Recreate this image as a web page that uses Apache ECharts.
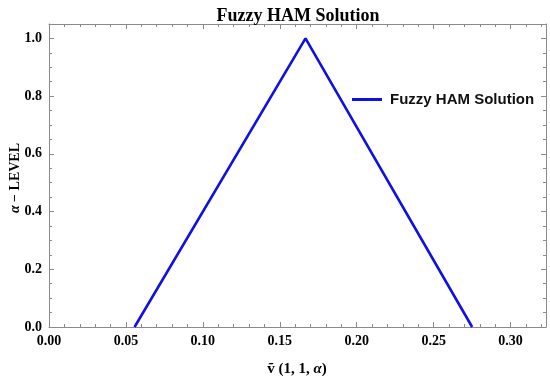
<!DOCTYPE html>
<html><head><meta charset="utf-8">
<script src="https://cdn.jsdelivr.net/npm/echarts@6/dist/echarts.min.js"></script>
<style>html,body{margin:0;padding:0;background:#fff}#c{width:550px;height:381px}</style>
</head><body><div id="c"></div>
<script>
const seriesName = 'Fuzzy HAM Solution';
const xValues = [0.0556, 0.1667, 0.2750];
const alphaValues = [0, 1, 0];
const xMajorTicks = [0, 0.05, 0.10, 0.15, 0.20, 0.25, 0.30];
const xMinorTicks = [0.01,0.02,0.03,0.04,0.06,0.07,0.08,0.09,0.11,0.12,0.13,0.14,0.16,0.17,0.18,0.19,0.21,0.22,0.23,0.24,0.26,0.27,0.28,0.29,0.31,0.32];
const yMajorTicks = [0, 0.2, 0.4, 0.6, 0.8, 1.0];
const yMinorTicks = [0.05,0.1,0.15,0.25,0.3,0.35,0.45,0.5,0.55,0.65,0.7,0.75,0.85,0.9,0.95];

const X_MAX = 0.323, Y_MAX = 1.05;
const gray = '#8a8a8a';
const serif = '"Liberation Serif","Times New Roman",serif';

function xAx(pos, ticks, len, labels, line) {
  return {
    type: 'value', position: pos, min: 0, max: X_MAX,
    axisLine: {show: line, onZero: false, lineStyle: {color: gray, width: 1}},
    axisTick: {show: true, inside: true, length: len, customValues: ticks, lineStyle: {color: gray}},
    axisLabel: labels ? {show: true, customValues: ticks, formatter: v => v.toFixed(2), color: '#000', fontFamily: serif, fontWeight: 'bold', fontSize: 14, margin: 7} : {show: false},
    splitLine: {show: false}
  };
}
function yAx(pos, ticks, len, labels, line) {
  return {
    type: 'value', position: pos, min: 0, max: Y_MAX,
    axisLine: {show: line, onZero: false, lineStyle: {color: gray, width: 1}},
    axisTick: {show: true, inside: true, length: len, customValues: ticks, lineStyle: {color: gray}},
    axisLabel: labels ? {show: true, customValues: ticks, formatter: v => v.toFixed(1), color: '#000', fontFamily: serif, fontWeight: 'bold', fontSize: 14, margin: 7} : {show: false},
    splitLine: {show: false}
  };
}

const xAxes = [
  xAx('bottom', xMajorTicks, 5, true, true),
  xAx('bottom', xMinorTicks, 3, false, false),
  xAx('top', xMajorTicks, 5, false, true),
  xAx('top', xMinorTicks, 3, false, false)
];
const yAxes = [
  yAx('left', yMajorTicks, 5, true, true),
  yAx('left', yMinorTicks, 3, false, false),
  yAx('right', yMajorTicks, 5, false, true),
  yAx('right', yMinorTicks, 3, false, false)
];

const chart = echarts.init(document.getElementById('c'), null, {renderer: 'canvas'});
chart.setOption({
  animation: false,
  backgroundColor: '#fff',
  title: {text: seriesName, left: 293, textAlign: 'center', top: 2, textStyle: {fontFamily: serif, fontWeight: 'bold', fontSize: 18, color: '#000'}},
  grid: {left: 49, right: 4, top: 24, bottom: 54, containLabel: false},
  legend: {
    left: 347, top: 87, itemWidth: 30, itemHeight: 3, itemGap: 0,
    data: [{name: seriesName, icon: 'rect'}],
    textStyle: {fontFamily: '"Liberation Sans",Arial,sans-serif', fontWeight: 'bold', fontSize: 15, color: '#111', padding: [0,0,0,3]}
  },
  xAxis: xAxes,
  yAxis: yAxes,
  graphic: [
    {type: 'text', x: 297, y: 369, style: {text: '{n|ṽ (1, 1, }{a|α}{n|)}', align: 'center', verticalAlign: 'middle',
      rich: {n: {font: 'bold 15px ' + serif, color: '#000'}, a: {font: 'italic bold 15px ' + serif, color: '#000'}}}},
    {type: 'text', x: 15, y: 178, rotation: Math.PI/2, style: {text: '{a|α} {n|− LEVEL}', align: 'center', verticalAlign: 'middle',
      rich: {n: {font: 'bold 14px ' + serif, color: '#000'}, a: {font: 'italic bold 14px ' + serif, color: '#000'}}}}
  ],
  series: [{
    name: seriesName, type: 'line', xAxisIndex: 0, yAxisIndex: 0,
    data: xValues.map((x, i) => [x, alphaValues[i]]),
    showSymbol: false, symbol: 'none',
    lineStyle: {color: '#1010e0', width: 2.6}, itemStyle: {color: '#1010e0'}
  }]
});
</script></body></html>
